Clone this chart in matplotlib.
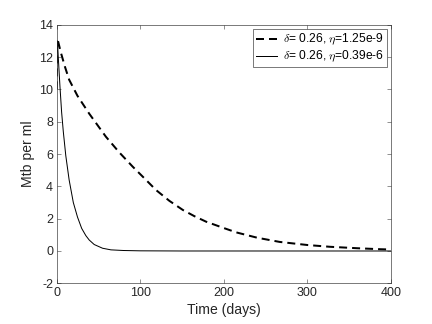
import numpy as np
import matplotlib.pyplot as plt

plt.rcParams['font.family'] = ['Liberation Sans', 'DejaVu Sans']
plt.rcParams['mathtext.fontset'] = 'cm'
plt.rcParams['axes.unicode_minus'] = False

# curva tracejada: eta = 1.25e-9
t_dash = [0, 0.5, 1.2, 5, 10, 15, 25, 39, 59, 75, 91, 105, 119, 135, 151, 165,
          179, 200, 215, 240, 267, 300, 327, 360, 387, 400]
y_dash = [10, 12.5, 13.1, 12.3, 11.4, 10.6, 9.6, 8.5, 7.07, 6.1, 5.22, 4.5, 3.77,
          3.1, 2.54, 2.15, 1.81, 1.42, 1.15, 0.82, 0.56, 0.37, 0.26, 0.17, 0.11, 0.09]

# curva solida: eta = 0.39e-6
t_solid = [0, 0.5, 1, 2, 4, 6, 8, 11, 15, 20, 25, 30, 35, 39, 45, 55, 65, 80,
           100, 150, 200, 300, 400]
y_solid = [10, 12.8, 13.0, 12.0, 10.2, 8.6, 7.4, 5.9, 4.4, 3.0, 2.1, 1.4, 0.95,
           0.68, 0.4, 0.17, 0.07, 0.03, 0.01, 0, 0, 0, 0]

labels = [r'$\delta$= 0.26, $\eta$=1.25e-9', r'$\delta$= 0.26, $\eta$=0.39e-6']

fig = plt.figure(figsize=(6, 4.5), dpi=72)
ax = fig.add_axes([0.131, 0.1256, 0.774, 0.798])

ax.plot(t_dash, y_dash, 'k--', linewidth=2, dashes=(4, 2.5), label=labels[0])
ax.plot(t_solid, y_solid, 'k-', linewidth=1, label=labels[1])

ax.set_xlim(0, 400)
ax.set_ylim(-2, 14)
ax.set_xticks([0, 100, 200, 300, 400])
ax.set_yticks(np.arange(-2, 15, 2))
ax.tick_params(direction='in', top=True, right=True, labelsize=12.5,
               colors='#262626', length=4, width=0.5)
for s in ax.spines.values():
    s.set_color('#262626')
    s.set_linewidth(0.6)

ax.set_xlabel('Time (days)', fontsize=14, color='#262626')
ax.set_ylabel('Mtb per ml', fontsize=14, color='#262626')

leg = ax.legend(loc='upper right', fontsize=12, fancybox=False, framealpha=1,
                edgecolor='#262626', borderaxespad=0.36, handlelength=1.7,
                borderpad=0.25, labelspacing=0.15, handletextpad=0.5)
leg.get_frame().set_linewidth(0.6)

plt.savefig('out.png', dpi=72)
